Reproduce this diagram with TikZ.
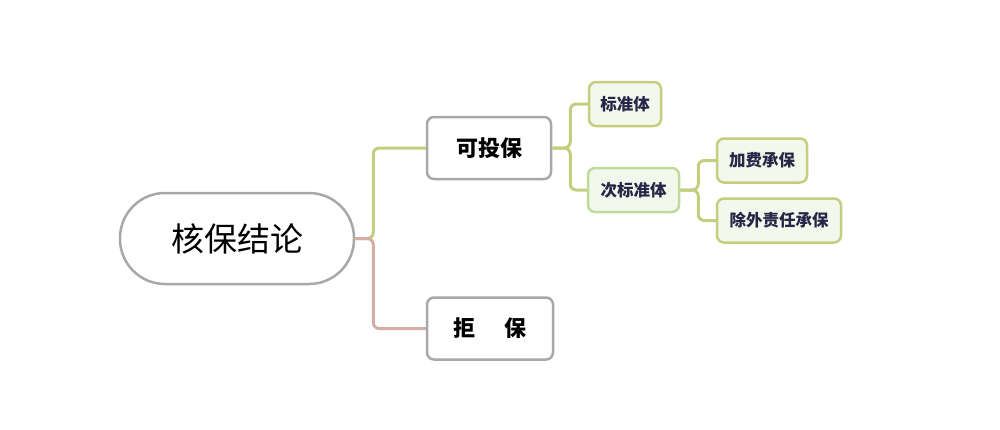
\documentclass[tikz,border=0pt]{standalone}
\usepackage{fontspec}
\setmainfont{Noto Sans CJK SC}
\usepackage{tikz}
\definecolor{boxgray}{HTML}{A8A8A8}
\definecolor{olivegreen}{HTML}{C4CE7E}
\definecolor{rosebrown}{HTML}{D2AEA4}
\definecolor{leafgreen}{HTML}{BFDA9C}
\definecolor{leaffill}{HTML}{F3F8EC}
\definecolor{inknavy}{HTML}{262646}

\tikzset{
  topic/.style={draw=boxgray,line width=2.5pt,fill=white,rounded corners=45pt,
    minimum width=234pt,minimum height=91pt,font=\fontsize{33}{33}\selectfont},
  branch/.style={draw=boxgray,line width=2.5pt,fill=white,rounded corners=7pt,
    minimum height=62pt,font=\fontsize{22}{22}\selectfont\bfseries},
  leaf/.style={draw=olivegreen,line width=2.5pt,fill=leaffill,rounded corners=7pt,
    minimum height=44pt,inner xsep=8pt,text=inknavy,font=\fontsize{16.5}{17}\selectfont\bfseries},
  link/.style={line width=3pt,rounded corners=6pt}
}

\begin{document}
\begin{tikzpicture}[x=1pt,y=-1pt]
			\useasboundingbox (0,0) rectangle (1000,429);
			\node[topic] (hbjl) at (237,238.5) {核保结论};
			\node[branch,minimum width=124pt] (ktb) at (489,148) {可投保};
			\node[branch,minimum width=126pt] (jb) at (490,328.5) {拒\hspace{1.3em}保};
			\node[leaf,minimum width=72pt] (bzt) at (625,104) {标准体};
			\node[leaf,draw=leafgreen,minimum width=91pt] (cbzt) at (633.5,190) {次标准体};
			\node[leaf,minimum width=90pt] (jfcb) at (762,160.5) {加费承保};
			\node[leaf,minimum width=124pt] (cwzr) at (779,220.5) {除外责任承保};
			% connectors
			\draw[link,olivegreen] (hbjl.east) -- ++(18,0) |- (ktb.west);
			\draw[link,rosebrown] (hbjl.east) -- ++(18,0) |- (jb.west);
			\draw[link,olivegreen] (ktb.east) -- ++(18,0) |- (bzt.west);
			\draw[link,olivegreen] (ktb.east) -- ++(18,0) |- (cbzt.west);
			\draw[link,olivegreen] (cbzt.east) -- ++(18,0) |- (jfcb.west);
			\draw[link,olivegreen] (cbzt.east) -- ++(18,0) |- (cwzr.west);
		\end{tikzpicture}
\end{document}
